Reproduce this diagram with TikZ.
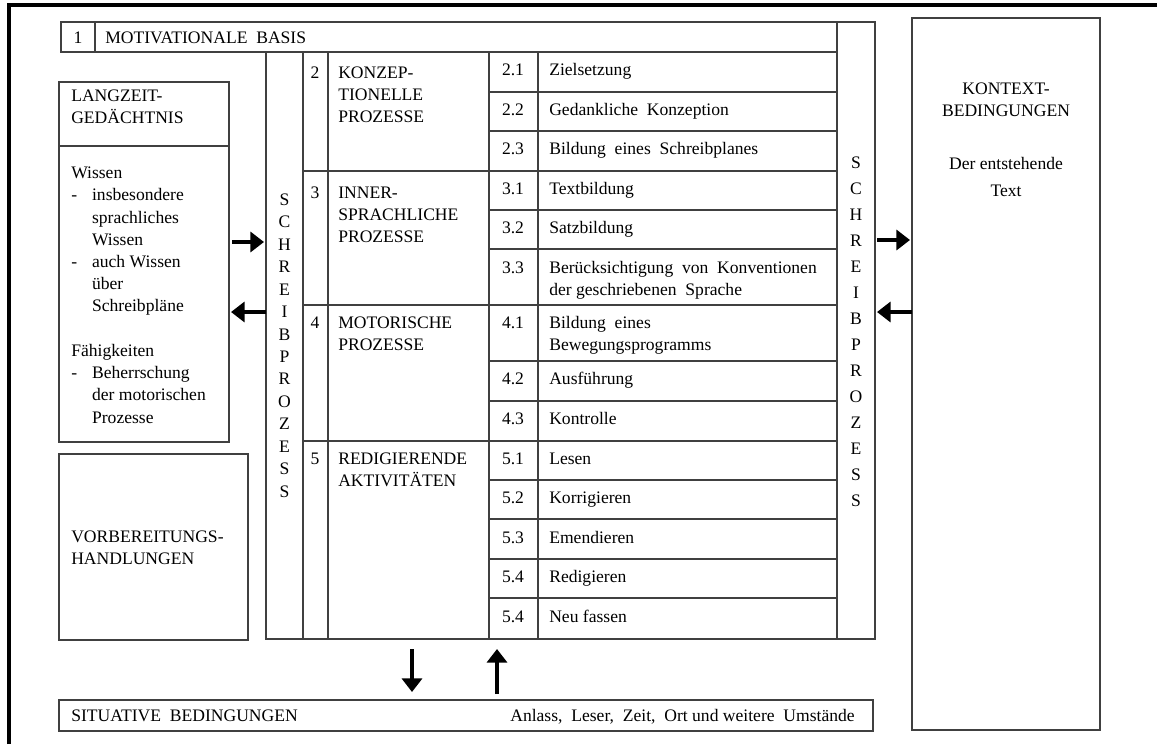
\documentclass[tikz,border=0pt]{standalone}
\usepackage{fontspec}
\setmainfont{Liberation Serif}
\usetikzlibrary{arrows.meta}

\tikzset{
  box/.style={draw=black!75, line width=1pt},
  txt/.style={inner sep=0pt, anchor=base west, align=left},
  mitte/.style={inner sep=0pt, anchor=base, align=center},
  pfeil/.style={line width=2.8pt, -{Triangle[length=0.34cm,width=0.5cm]}},
}

\begin{document}
\begin{tikzpicture}[x=0.025cm, y=-0.025cm, font=\fontsize{12.5}{15.6}\selectfont]
        \useasboundingbox (0,0) rectangle (1157,744);
        \draw[line width=2.2pt] (9,744) -- (9,5) -- (1157,5); % Rahmen

        \path[box] (61,22) rectangle (837,52) (95,22) -- (95,52) % Motivationale Basis
                   (59,82) rectangle (229,442) (59,146) -- (229,146) % Langzeitgedaechtnis
                   (59,454) rectangle (248,640) % Vorbereitung
                   (59,700) rectangle (873,731) % Situative Bedingungen
                   (912,18) rectangle (1100,730) % Kontext
                   (266,52) rectangle (303,639) % Schreibprozess links
                   (837,22) rectangle (875,639) % Schreibprozess rechts
                   (303,52) rectangle (837,639) (328,52) -- (328,639) % Prozesse
                   (489,52) -- (489,639) (538,52) -- (538,639)
                   (303,171) -- (837,171) (303,305) -- (837,305) (303,441) -- (837,441) % Hauptzeilen
                   (489,92) -- (837,92) (489,131) -- (837,131) % Unterzeilen
                   (489,210) -- (837,210) (489,249) -- (837,249)
                   (489,361) -- (837,361) (489,401) -- (837,401)
                   (489,480) -- (837,480) (489,519) -- (837,519)
                   (489,559) -- (837,559) (489,598) -- (837,598);

        % mehrzeilige Knoten: Lage = Grundlinie der letzten Zeile
        \node[mitte] (n1) at (78,43) {1};
        \node[txt] (mot) at (105,43) {MOTIVATIONALE\ \ BASIS};

        \node[txt] (lzg) at (71,123) {LANGZEIT-\\GEDÄCHTNIS};
        \node[txt, font=\fontsize{12.5}{15.8}\selectfont] (wissen) at (71,423)
             {Wissen\\
              \makebox[0.52cm][l]{-}insbesondere\\
              \hspace*{0.52cm}sprachliches\\
              \hspace*{0.52cm}Wissen\\
              \makebox[0.52cm][l]{-}auch Wissen\\
              \hspace*{0.52cm}über\\
              \hspace*{0.52cm}Schreibpläne\\[15.8pt]
              Fähigkeiten\\
              \makebox[0.52cm][l]{-}Beherrschung\\
              \hspace*{0.52cm}der motorischen\\
              \hspace*{0.52cm}Prozesse};

        \node[txt] (vorb) at (71,564) {VORBEREITUNGS-\\HANDLUNGEN};
        \node[txt] (sit) at (71,721) {SITUATIVE\ \ BEDINGUNGEN};
        \node[inner sep=0pt, anchor=base east] (umst) at (855,721) {Anlass,\ \ Leser,\ \ Zeit,\ \ Ort und weitere\ \ Umstände};

        \node[mitte] (kon) at (1006,116) {KONTEXT-\\BEDINGUNGEN};
        \node[mitte, font=\fontsize{12.5}{19}\selectfont] (text) at (1006,196) {Der entstehende\\Text};

        \node[mitte, font=\fontsize{12.5}{15.95}\selectfont] (spl) at (284.5,497) {S\\C\\H\\R\\E\\I\\B\\P\\R\\O\\Z\\E\\S\\S};
        \node[mitte, font=\fontsize{12.5}{18.45}\selectfont] (spr) at (856,506) {S\\C\\H\\R\\E\\I\\B\\P\\R\\O\\Z\\E\\S\\S};

        \node[mitte] (g2) at (315,78) {2};
        \node[txt] (k2) at (338,122) {KONZEP-\\TIONELLE\\PROZESSE};
        \node[mitte] (g3) at (315,198) {3};
        \node[txt] (k3) at (338,242) {INNER-\\SPRACHLICHE\\PROZESSE};
        \node[mitte] (g4) at (315,328) {4};
        \node[txt] (k4) at (338,350) {MOTORISCHE\\PROZESSE};
        \node[mitte] (g5) at (315,464) {5};
        \node[txt] (k5) at (338,486) {REDIGIERENDE\\AKTIVITÄTEN};

        \node[mitte] (n21) at (513,75) {2.1};
        \node[txt] (t21) at (549,75) {Zielsetzung};
        \node[mitte] (n22) at (513,115) {2.2};
        \node[txt] (t22) at (549,115) {Gedankliche\ \ Konzeption};
        \node[mitte] (n23) at (513,154) {2.3};
        \node[txt] (t23) at (549,154) {Bildung\ \ eines\ \ Schreibplanes};
        \node[mitte] (n31) at (513,194) {3.1};
        \node[txt] (t31) at (549,194) {Textbildung};
        \node[mitte] (n32) at (513,233) {3.2};
        \node[txt] (t32) at (549,233) {Satzbildung};
        \node[mitte] (n33) at (513,273) {3.3};
        \node[txt] (t33) at (549,295) {Berücksichtigung\ \ von\ \ Konventionen\\der geschriebenen\ \ Sprache};
        \node[mitte] (n41) at (513,328) {4.1};
        \node[txt] (t41) at (549,350) {Bildung\ \ eines\\Bewegungsprogramms};
        \node[mitte] (n42) at (513,384) {4.2};
        \node[txt] (t42) at (549,384) {Ausführung};
        \node[mitte] (n43) at (513,424) {4.3};
        \node[txt] (t43) at (549,424) {Kontrolle};
        \node[mitte] (n51) at (513,464) {5.1};
        \node[txt] (t51) at (549,464) {Lesen};
        \node[mitte] (n52) at (513,503) {5.2};
        \node[txt] (t52) at (549,503) {Korrigieren};
        \node[mitte] (n53) at (513,543) {5.3};
        \node[txt] (t53) at (549,543) {Emendieren};
        \node[mitte] (n54) at (513,582) {5.4};
        \node[txt] (t54) at (549,582) {Redigieren};
        \node[mitte] (n55) at (513,622) {5.4};
        \node[txt] (t55) at (549,622) {Neu fassen};

        % Pfeile
        \coordinate (lzgA) at (232,242);  \coordinate (splA) at (264,242);
        \coordinate (splB) at (266,312);  \coordinate (lzgB) at (231,312);
        \coordinate (sprA) at (877,240);  \coordinate (konA) at (910,240);
        \coordinate (konB) at (912,312);  \coordinate (sprB) at (877,312);
        \coordinate (proA) at (412,649);  \coordinate (sitA) at (412,692);
        \coordinate (sitB) at (497,694);  \coordinate (proB) at (497,649);
        \draw[pfeil] (lzgA) -- (splA);
        \draw[pfeil] (splB) -- (lzgB);
        \draw[pfeil] (sprA) -- (konA);
        \draw[pfeil] (konB) -- (sprB);
        \draw[pfeil] (proA) -- (sitA);
        \draw[pfeil] (sitB) -- (proB);
\end{tikzpicture}
\end{document}
